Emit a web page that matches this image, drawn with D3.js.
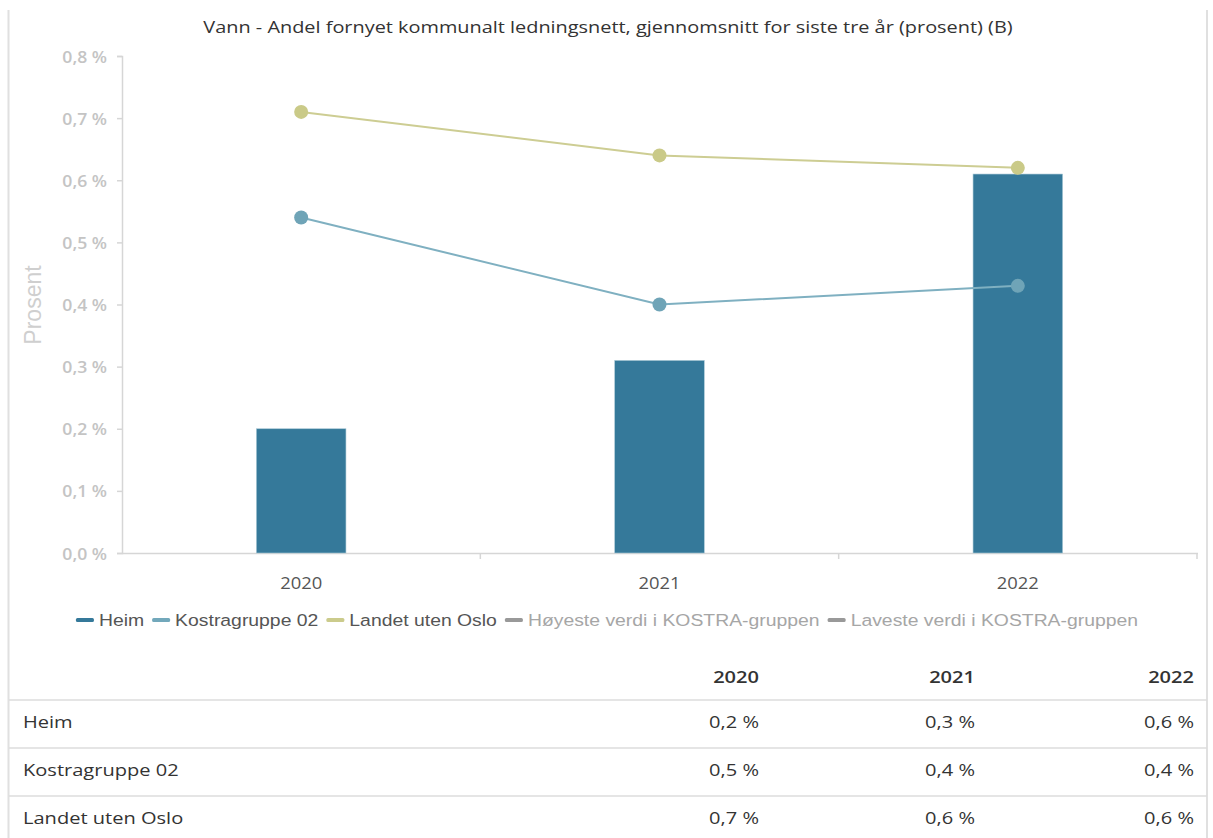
<!DOCTYPE html>
<html>
<head>
<meta charset="utf-8">
<script src="https://cdn.jsdelivr.net/npm/d3@7"></script>
<style>
  body { margin: 0; background: #fff; }
  svg { display: block; }
</style>
</head>
<body>
<div id="chart"></div>
<script>
// data
var years = ["2020", "2021", "2022"];
var heim = [0.20, 0.31, 0.61];
var kostra = [0.54, 0.40, 0.43];
var landet = [0.71, 0.64, 0.62];
var yTicks = [0, 0.1, 0.2, 0.3, 0.4, 0.5, 0.6, 0.7, 0.8];
var legendNames = ["Heim", "Kostragruppe 02", "Landet uten Oslo", "Høyeste verdi i KOSTRA-gruppen", "Laveste verdi i KOSTRA-gruppen"];
var legendColors = ["#35799a", "#72a8bb", "#cbcb8c", "#999999", "#999999"];
var legendText = ["#555", "#555", "#555", "#a6a6a6", "#a6a6a6"];
var rowNames = ["Heim", "Kostragruppe 02", "Landet uten Oslo"];
var title = "Vann - Andel fornyet kommunalt ledningsnett, gjennomsnitt for siste tre år (prosent) (B)";

var W = 1213, H = 838;
var svg = d3.select("#chart").append("svg").attr("width", W).attr("height", H);

// text that is a bit wider than the font gives, like the screenshot
function label(parent, x, y, txt, opts) {
   var t = parent.append("text")
      .attr("transform", "translate(" + x + "," + y + ") scale(" + (opts.sx || 1) + ",1)")
      .attr("text-anchor", opts.anchor || "start")
      .style("font-family", opts.family || "Open Sans")
      .style("font-size", opts.size + "px")
      .style("font-weight", opts.weight || "normal")
      .style("fill", opts.fill || "#333")
      .text(txt);
   return t;
}

//Frame
svg.append("line").attr("x1", 8.5).attr("x2", 8.5).attr("y1", 10).attr("y2", H)
   .style("stroke", "#e0e0e0").style("stroke-width", 2);
svg.append("line").attr("x1", 1207).attr("x2", 1207).attr("y1", 10).attr("y2", H)
   .style("stroke", "#e0e0e0").style("stroke-width", 2);

//Title
label(svg, 608, 33, title, {size: 17, sx: 1.17, anchor: "middle", fill: "#333"});

//Scales
var x = d3.scaleBand().domain(years).range([122, 1197]).padding(0);
var y = d3.scaleLinear().domain([0, 0.8]).range([553, 56]);
var fmt = function (v) { return d3.format(".1f")(v).replace(".", ",") + " %"; };

//Y axis
var yAxis = svg.append("g").attr("transform", "translate(122,0)")
   .call(d3.axisLeft(y).tickValues(yTicks).tickSize(5));
yAxis.select(".domain").style("stroke", "#d6d6d6").style("stroke-width", 1.5);
yAxis.selectAll(".tick line").style("stroke", "#d6d6d6").style("stroke-width", 1.5);
yAxis.selectAll(".tick text").remove();
yAxis.selectAll(".tick").each(function (d) {
   label(d3.select(this), -15, 6, fmt(d), {size: 16, sx: 1.1, anchor: "end", weight: "600", fill: "#c4c4c4"});
});

//X axis
var xAxis = svg.append("g").attr("transform", "translate(0,553)")
   .call(d3.axisBottom(x).tickSize(0));
xAxis.select(".domain").remove();
xAxis.selectAll(".tick text").remove();
xAxis.selectAll(".tick").each(function (d) {
   label(d3.select(this), 0, 36, d, {size: 16, sx: 1.15, anchor: "middle", fill: "#555"});
});
svg.append("line").attr("x1", 122).attr("x2", 1198).attr("y1", 553.5).attr("y2", 553.5)
   .style("stroke", "#d6d6d6").style("stroke-width", 1.5);
svg.selectAll(".xtick").data(years).enter().append("line")
   .attr("x1", function (d) { return x(d) + x.bandwidth(); })
   .attr("x2", function (d) { return x(d) + x.bandwidth(); })
   .attr("y1", 553).attr("y2", 559)
   .style("stroke", "#d6d6d6").style("stroke-width", 1.5);

//Y title
svg.append("text").attr("transform", "translate(41,305) rotate(-90)").attr("text-anchor", "middle")
   .style("font-family", "Liberation Sans").style("font-size", "23px").style("fill", "#cfcfcf")
   .text("Prosent");

//Bars
var barW = x.bandwidth() * 0.25;
svg.selectAll(".bar").data(heim).enter().append("rect")
   .attr("x", function (d, i) { return x(years[i]) + (x.bandwidth() - barW) / 2; })
   .attr("y", function (d) { return y(d); })
   .attr("width", barW)
   .attr("height", function (d) { return y(0) - y(d); })
   .style("fill", "#35799a").style("stroke", "#a9c8d6").style("stroke-width", 0.6);

//Lines
function drawLine(vals, lineColor, dotColor) {
   var line = d3.line()
      .x(function (d, i) { return x(years[i]) + x.bandwidth() / 2; })
      .y(function (d) { return y(d); });
   svg.append("path").datum(vals).attr("d", line)
      .style("fill", "none").style("stroke", lineColor).style("stroke-width", 2);
   svg.selectAll(null).data(vals).enter().append("circle")
      .attr("cx", function (d, i) { return x(years[i]) + x.bandwidth() / 2; })
      .attr("cy", function (d) { return y(d); })
      .attr("r", 7)
      .style("fill", dotColor);
}
drawLine(kostra, "#7fb0c1", "#6fa4b7");
drawLine(landet, "#cdcd93", "#caca88");

//Legend
var legend = svg.append("g");
var lx = 0, lsx = 1.14;
legendNames.forEach(function (name, i) {
   var g = legend.append("g").attr("transform", "translate(" + lx + ",0)");
   g.append("rect").attr("x", 0).attr("y", -2).attr("width", 18).attr("height", 4).attr("rx", 1.5)
      .style("fill", legendColors[i]);
   var t = label(g, 23, 6, name, {size: 17, sx: lsx, family: "Liberation Sans", fill: legendText[i]});
   lx += 23 + t.node().getComputedTextLength() * lsx + 8;
});
legend.attr("transform", "translate(" + (607 - (lx - 8) / 2) + ",620)");

//Table
var colRight = [759, 975, 1194];
var tsx = 1.18;
years.forEach(function (d, i) {
   label(svg, colRight[i], 683, d, {size: 17, sx: tsx, anchor: "end", weight: "600", fill: "#333"});
});

var rows = [heim, kostra, landet];
var rowTop = [700, 748, 796];
rows.forEach(function (vals, r) {
   svg.append("line").attr("x1", 9).attr("x2", 1207).attr("y1", rowTop[r]).attr("y2", rowTop[r])
      .style("stroke", "#dcdcdc").style("stroke-width", 1.5);
   label(svg, 23, rowTop[r] + 28, rowNames[r], {size: 17, sx: tsx, fill: "#333"});
   vals.forEach(function (v, i) {
      label(svg, colRight[i], rowTop[r] + 28, fmt(v), {size: 17, sx: tsx, anchor: "end", fill: "#333"});
   });
});
</script>
</body>
</html>
